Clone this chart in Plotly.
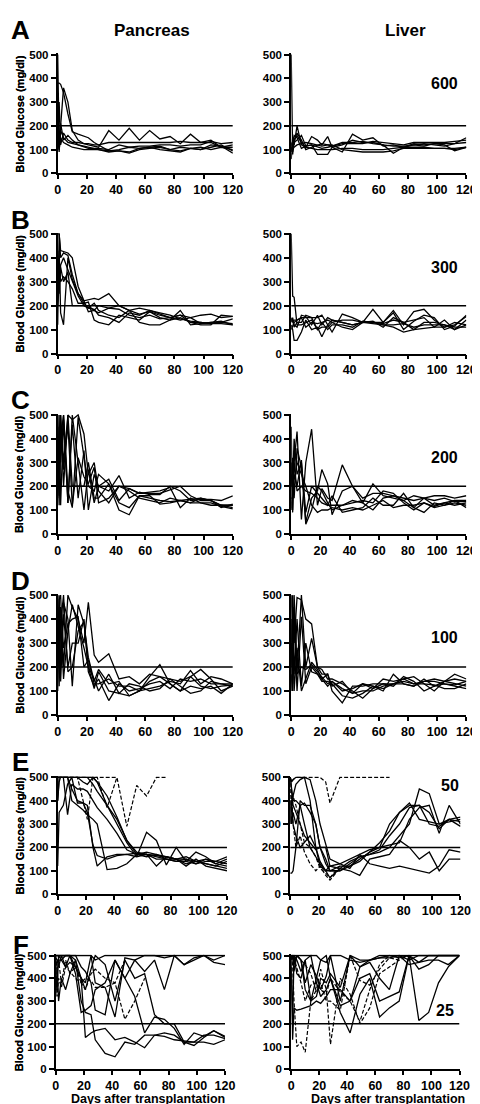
import plotly.graph_objects as go

# ---------------- data ----------------
DAYS = [0, 1, 2, 4, 7, 10, 14, 18, 21, 25, 28, 35, 42, 49, 56, 63, 70, 77, 84, 91, 98, 105, 112, 120]
X_TICKS = [0, 20, 40, 60, 80, 100, 120]
Y_TICKS = [0, 100, 200, 300, 400, 500]
PANEL_LETTERS = ["A", "B", "C", "D", "E", "F"]
DOSES = ["600", "300", "200", "100", "50", "25"]
COLUMN_TITLES = ["Pancreas", "Liver"]
THRESHOLD = 200

A_PANCREAS = [
    [500, 120, 180, 150, 130, 125, 120, 115, 110, 105, 100, 95, 100, 110, 105, 110, 115, 100, 110, 105, 100, 110, 120, 95],
    [380, 380, 375, 340, 250, 175, 165, 155, 150, 130, 120, 95, 95, 90, 105, 110, 100, 95, 90, 105, 110, 100, 110, 100],
    [310, 130, 200, 360, 300, 180, 140, 125, 120, 115, 110, 180, 140, 190, 140, 180, 145, 155, 125, 165, 130, 140, 110, 120],
    [120, 300, 120, 170, 140, 130, 130, 125, 125, 120, 120, 130, 130, 130, 130, 130, 130, 130, 135, 130, 130, 130, 110, 110],
    [200, 100, 150, 130, 120, 110, 105, 100, 100, 100, 100, 90, 95, 85, 100, 105, 110, 100, 95, 105, 100, 120, 115, 85],
    [150, 90, 210, 140, 160, 140, 120, 110, 105, 105, 105, 100, 120, 110, 115, 115, 120, 120, 115, 120, 120, 135, 125, 130],
]
A_LIVER = [
    [500, 80, 140, 160, 130, 110, 105, 100, 100, 100, 100, 105, 105, 100, 100, 100, 105, 110, 110, 110, 105, 105, 100, 110],
    [90, 150, 120, 200, 120, 110, 155, 140, 120, 155, 110, 90, 165, 140, 150, 115, 120, 110, 125, 120, 125, 125, 125, 150],
    [60, 130, 160, 150, 105, 115, 120, 80, 80, 80, 110, 120, 140, 130, 130, 120, 85, 110, 120, 115, 125, 120, 95, 110],
    [100, 110, 140, 170, 140, 100, 110, 120, 125, 120, 115, 130, 130, 135, 125, 120, 115, 115, 120, 125, 120, 115, 125, 130],
    [130, 100, 110, 120, 125, 130, 125, 120, 115, 120, 120, 100, 95, 90, 90, 90, 95, 105, 105, 105, 105, 105, 105, 110],
    [110, 90, 130, 140, 160, 115, 120, 110, 105, 110, 115, 125, 125, 125, 135, 130, 125, 120, 130, 130, 130, 130, 135, 140],
]
B_PANCREAS = [
    [500, 500, 430, 425, 420, 400, 280, 220, 225, 230, 225, 250, 200, 180, 165, 175, 160, 150, 160, 150, 125, 130, 135, 120],
    [120, 500, 400, 420, 410, 330, 250, 210, 215, 140, 130, 120, 160, 150, 140, 175, 150, 140, 150, 130, 130, 125, 130, 125],
    [300, 430, 170, 120, 400, 310, 250, 220, 175, 180, 170, 190, 185, 160, 150, 160, 145, 150, 140, 150, 160, 165, 150, 155],
    [200, 300, 360, 300, 340, 200, 200, 200, 200, 180, 200, 190, 200, 180, 130, 120, 120, 140, 180, 120, 125, 130, 130, 145],
    [350, 250, 370, 400, 350, 300, 240, 200, 190, 210, 180, 160, 150, 180, 190, 180, 165, 150, 160, 130, 120, 120, 160, 155],
    [250, 370, 300, 320, 300, 270, 210, 210, 190, 185, 160, 150, 130, 170, 160, 180, 170, 160, 145, 135, 130, 125, 125, 120],
]
B_LIVER = [
    [500, 240, 235, 120, 120, 130, 140, 100, 130, 140, 130, 140, 140, 130, 135, 110, 150, 130, 100, 130, 130, 120, 110, 110],
    [120, 100, 55, 55, 90, 140, 100, 110, 70, 120, 140, 130, 120, 130, 185, 130, 180, 120, 175, 185, 140, 110, 130, 120],
    [150, 130, 140, 140, 150, 150, 150, 150, 160, 120, 90, 165, 150, 130, 130, 120, 110, 90, 100, 105, 110, 110, 120, 155],
    [130, 150, 120, 110, 160, 155, 120, 160, 120, 150, 140, 130, 120, 130, 130, 125, 140, 130, 140, 150, 110, 140, 100, 140],
    [140, 140, 110, 130, 130, 160, 150, 100, 110, 110, 130, 110, 100, 130, 125, 120, 120, 125, 110, 120, 120, 120, 100, 120],
    [100, 120, 130, 140, 150, 110, 130, 125, 130, 100, 120, 120, 110, 135, 130, 130, 170, 100, 135, 160, 150, 100, 115, 160],
]
C_PANCREAS = [
    [500, 160, 500, 200, 500, 480, 500, 420, 250, 300, 180, 130, 200, 180, 150, 140, 130, 150, 140, 130, 150, 140, 120, 110],
    [150, 500, 120, 480, 130, 460, 150, 350, 100, 250, 200, 230, 140, 190, 170, 170, 170, 185, 200, 160, 140, 140, 120, 120],
    [300, 200, 400, 500, 180, 110, 490, 320, 200, 180, 250, 210, 100, 80, 160, 150, 140, 135, 140, 130, 130, 130, 115, 105],
    [200, 450, 300, 500, 130, 500, 300, 100, 270, 130, 200, 180, 245, 150, 175, 165, 165, 200, 180, 140, 145, 145, 140, 160],
    [400, 300, 500, 300, 500, 200, 200, 200, 300, 150, 150, 210, 130, 110, 160, 160, 125, 130, 140, 145, 150, 140, 110, 125],
    [350, 120, 450, 270, 460, 120, 320, 240, 210, 280, 130, 150, 200, 190, 170, 175, 180, 195, 110, 150, 130, 120, 120, 120],
]
C_LIVER = [
    [450, 90, 300, 430, 60, 300, 440, 120, 190, 150, 140, 290, 200, 130, 210, 160, 150, 140, 110, 90, 130, 120, 130, 120],
    [200, 320, 150, 360, 280, 50, 150, 180, 270, 210, 80, 180, 200, 150, 170, 170, 160, 140, 160, 150, 160, 160, 150, 160],
    [100, 200, 400, 250, 300, 90, 200, 170, 150, 120, 160, 90, 100, 110, 150, 120, 120, 170, 110, 150, 120, 130, 140, 140],
    [150, 150, 250, 200, 310, 40, 100, 200, 180, 130, 100, 120, 130, 140, 130, 180, 170, 130, 100, 130, 110, 120, 140, 110],
    [300, 100, 350, 300, 250, 200, 120, 90, 100, 100, 110, 100, 110, 100, 120, 140, 110, 120, 120, 130, 115, 130, 120, 130],
    [250, 180, 300, 180, 200, 180, 170, 150, 130, 120, 120, 120, 140, 130, 100, 150, 160, 150, 140, 150, 140, 150, 135, 135],
]
D_PANCREAS = [
    [100, 480, 500, 200, 500, 450, 400, 300, 470, 250, 220, 255, 150, 160, 130, 170, 160, 130, 100, 160, 190, 150, 100, 120],
    [500, 260, 380, 500, 180, 200, 350, 390, 200, 110, 180, 100, 90, 80, 100, 110, 120, 140, 130, 185, 130, 160, 150, 130],
    [300, 400, 200, 470, 400, 120, 460, 380, 240, 140, 190, 130, 140, 80, 100, 140, 160, 150, 140, 160, 120, 110, 120, 125],
    [450, 120, 400, 150, 350, 460, 370, 280, 200, 150, 100, 170, 90, 130, 120, 100, 110, 150, 120, 90, 100, 140, 130, 120],
    [250, 500, 140, 420, 200, 300, 300, 400, 180, 120, 150, 60, 130, 100, 110, 130, 140, 110, 150, 140, 150, 130, 130, 130],
    [200, 350, 450, 280, 380, 400, 410, 200, 230, 130, 130, 150, 120, 120, 100, 160, 210, 130, 100, 120, 110, 120, 90, 130],
]
D_LIVER = [
    [100, 500, 300, 490, 480, 400, 380, 200, 190, 150, 150, 130, 100, 70, 110, 130, 120, 160, 140, 100, 120, 130, 120, 110],
    [170, 100, 500, 180, 500, 200, 320, 200, 170, 170, 100, 50, 120, 120, 130, 130, 130, 130, 120, 140, 150, 140, 130, 120],
    [300, 200, 400, 100, 410, 130, 200, 170, 150, 170, 120, 140, 90, 130, 120, 100, 170, 130, 120, 150, 120, 140, 150, 140],
    [500, 350, 100, 280, 100, 150, 220, 190, 150, 120, 140, 100, 110, 130, 110, 150, 140, 150, 160, 130, 100, 140, 170, 150],
    [200, 450, 170, 400, 120, 300, 180, 170, 140, 140, 130, 80, 70, 90, 120, 110, 130, 140, 130, 130, 125, 110, 110, 130],
    [400, 130, 450, 170, 200, 190, 210, 180, 160, 130, 140, 110, 90, 100, 100, 120, 130, 150, 130, 140, 140, 130, 125, 140],
]
E_PANCREAS = [
    [120, 350, 360, 380, 470, 500, 390, 390, 380, 200, 120, 160, 170, 170, 175, 170, 165, 160, 150, 130, 140, 130, 120, 110],
    [400, 500, 500, 500, 500, 450, 400, 390, 350, 210, 165, 150, 165, 170, 160, 170, 160, 150, 150, 160, 140, 130, 120, 140],
    [500, 500, 500, 500, 500, 400, 380, 360, 340, 320, 300, 105, 110, 130, 170, 160, 170, 150, 140, 150, 140, 150, 130, 150],
    [400, 480, 500, 500, 340, 470, 450, 450, 440, 400, 370, 320, 260, 190, 170, 180, 170, 160, 150, 150, 130, 150, 140, 160],
    [500, 500, 500, 500, 500, 500, 500, 480, 470, 500, 480, 380, 320, 230, 170, 170, 120, 160, 150, 120, 150, 120, 110, 100],
    [500, 500, 500, 500, 500, 500, 500, 500, 500, 470, 440, 380, 300, 220, 160, 265, 230, 125, 200, 140, 180, 160, 130, 120],
    [500, 500, 500, 500, 500, 500, 500, 500, 500, 500, 480, 420, 330, 230, 180, 170, 150, 150, 140, 140, 130, 140, 140, 130],
]
E_PANCREAS_DASHED = [
    [500, 500, 500, 500, 500, 500, 500, 500, 500, 500, 500, 500, 500, 290, 465, 420, 500, 500],
    [500, 500, 500, 500, 500, 500, 500, 400, 320, 500, 500, 370, 500],
]
E_LIVER = [
    [90, 90, 100, 200, 400, 380, 380, 300, 200, 130, 100, 100, 120, 150, 180, 200, 300, 350, 390, 320, 310, 300, 320, 330],
    [500, 480, 490, 500, 500, 500, 400, 200, 120, 100, 100, 120, 120, 140, 180, 220, 270, 350, 380, 380, 350, 280, 320, 310],
    [500, 450, 400, 400, 380, 300, 200, 160, 130, 100, 70, 110, 140, 160, 170, 180, 200, 250, 300, 450, 430, 300, 310, 320],
    [500, 420, 380, 350, 300, 250, 220, 190, 200, 200, 120, 110, 100, 80, 150, 160, 170, 230, 200, 150, 180, 100, 150, 150],
    [300, 400, 300, 250, 200, 220, 250, 200, 140, 100, 120, 130, 110, 170, 130, 120, 110, 120, 110, 100, 90, 120, 190, 180],
    [400, 400, 420, 470, 490, 500, 490, 400, 300, 210, 150, 130, 150, 170, 190, 200, 210, 220, 320, 370, 380, 260, 380, 300],
    [400, 300, 350, 300, 380, 390, 350, 300, 200, 150, 100, 100, 130, 160, 170, 190, 250, 300, 370, 380, 300, 290, 320, 290],
]
E_LIVER_DASHED = [
    [500, 480, 490, 500, 500, 500, 500, 500, 500, 480, 390, 500, 500, 500, 500, 500, 500],
    [500, 400, 300, 200, 250, 180, 130, 100, 120, 80, 60, 110],
    [450, 350, 420, 380, 300, 220, 200, 160, 110, 90, 70, 120],
]
F_PANCREAS = [
    [500, 500, 500, 500, 500, 500, 500, 500, 500, 500, 480, 500, 500, 500, 500, 500, 500, 500, 500, 500, 500, 500, 500, 500],
    [490, 480, 450, 500, 450, 500, 420, 250, 260, 280, 350, 380, 480, 400, 480, 500, 500, 490, 500, 460, 480, 500, 470, 460],
    [320, 450, 300, 400, 350, 420, 480, 400, 140, 160, 170, 180, 130, 140, 120, 95, 150, 160, 150, 120, 105, 140, 170, 140],
    [500, 500, 500, 500, 500, 500, 480, 300, 250, 240, 130, 70, 55, 120, 110, 150, 150, 145, 130, 125, 120, 150, 150, 135],
    [450, 480, 480, 480, 500, 500, 450, 400, 380, 500, 380, 360, 230, 490, 480, 430, 480, 350, 500, 460, 490, 500, 480, 500],
    [400, 350, 500, 480, 450, 470, 450, 400, 350, 440, 500, 460, 300, 480, 400, 420, 240, 200, 200, 120, 120, 120, 110, 130],
    [500, 500, 500, 500, 500, 500, 500, 450, 430, 380, 260, 240, 480, 400, 320, 160, 230, 220, 180, 110, 160, 145, 170, 145],
]
F_PANCREAS_DASHED = [
    [500, 420, 480, 380, 480, 420, 450, 380, 400, 390, 360, 360, 380, 220, 300, 400],
    [460, 320, 400, 360, 450, 430, 400, 380, 350, 420, 440, 400, 380, 480],
]
F_LIVER = [
    [500, 130, 270, 260, 265, 270, 280, 300, 290, 320, 350, 350, 300, 450, 470, 400, 350, 500, 500, 470, 500, 500, 500, 500],
    [500, 500, 500, 480, 430, 480, 500, 380, 320, 350, 400, 280, 300, 400, 420, 300, 320, 340, 500, 215, 250, 380, 450, 500],
    [450, 200, 500, 420, 400, 480, 300, 400, 480, 500, 400, 250, 160, 330, 400, 230, 270, 300, 500, 440, 460, 500, 500, 500],
    [480, 500, 430, 500, 480, 380, 460, 410, 350, 410, 500, 300, 500, 450, 480, 490, 500, 500, 460, 470, 480, 480, 460, 500],
    [500, 490, 500, 500, 500, 500, 500, 500, 480, 470, 500, 500, 480, 470, 480, 490, 490, 500, 480, 500, 500, 500, 500, 500],
    [500, 500, 460, 500, 480, 350, 300, 320, 400, 380, 420, 360, 500, 480, 480, 500, 500, 490, 500, 500, 500, 500, 500, 500],
]
F_LIVER_DASHED = [
    [500, 460, 300, 100, 120, 75, 300, 350, 440, 350, 110, 400, 330, 200, 270, 420, 450, 480],
    [500, 500, 480, 500, 480, 460, 420, 340, 380, 300, 300, 260, 500, 390, 370, 440, 490, 480, 500],
    [500, 480, 490, 450, 380, 300, 370, 380, 350, 330, 400, 340, 300, 210, 350, 460, 500],
]

PANELS = [
    (A_PANCREAS, []), (A_LIVER, []),
    (B_PANCREAS, []), (B_LIVER, []),
    (C_PANCREAS, []), (C_LIVER, []),
    (D_PANCREAS, []), (D_LIVER, []),
    (E_PANCREAS, E_PANCREAS_DASHED), (E_LIVER, E_LIVER_DASHED),
    (F_PANCREAS, F_PANCREAS_DASHED), (F_LIVER, F_LIVER_DASHED),
]

# ---------------- layout geometry (pixels) ----------------
W, H = 480, 1104
FONT = "Liberation Sans, Arial, Helvetica, sans-serif"
ROW_PX = [(42, 162), (223, 344), (406, 526), (588, 709), (772, 890), (952, 1067)]
COL_PX = [[(48, 228), (288, 468)]] * 4 + [[(48, 222), (287, 462)], [(46, 220), (288, 461)]]
Y_MAX = 505

fig = go.Figure()
layout = dict(
    width=W, height=H, margin=dict(l=0, r=0, t=0, b=0),
    paper_bgcolor="white", plot_bgcolor="white", showlegend=False,
    font=dict(family=FONT, color="black"),
)
shapes = []
annotations = []

for k, (solid, dashed) in enumerate(PANELS):
    r, c = divmod(k, 2)
    sfx = "" if k == 0 else str(k + 1)
    xa, ya = "x" + sfx, "y" + sfx
    (x0, x1) = COL_PX[r][c]
    (t500, b0) = ROW_PX[r]
    ttop = t500 - (Y_MAX - 500) / 500 * (b0 - t500)
    layout["xaxis" + sfx] = dict(
        domain=[x0 / W, x1 / W], range=[0, 120], anchor=ya,
        tickvals=X_TICKS, ticks="outside", ticklen=4, tickwidth=1.6, tickcolor="black",
        showline=True, linewidth=1.8, linecolor="black", showgrid=False, zeroline=False,
        tickfont=dict(family=FONT, size=12.5, color="black", weight="bold"),
    )
    layout["yaxis" + sfx] = dict(
        domain=[1 - b0 / H, 1 - ttop / H], range=[0, Y_MAX], anchor=xa,
        tickvals=Y_TICKS, ticks="outside", ticklen=5, tickwidth=1.6, tickcolor="black",
        showline=True, linewidth=1.8, linecolor="black", showgrid=False, zeroline=False,
        tickfont=dict(family=FONT, size=11.5, color="black", weight="bold"),
    )
    for vals in solid:
        n = min(len(vals), len(DAYS))
        fig.add_trace(go.Scatter(x=DAYS[:n], y=vals[:n], mode="lines", xaxis=xa, yaxis=ya,
                                 line=dict(color="black", width=1.3), hoverinfo="skip"))
    for vals in dashed:
        n = min(len(vals), len(DAYS))
        fig.add_trace(go.Scatter(x=DAYS[:n], y=vals[:n], mode="lines", xaxis=xa, yaxis=ya,
                                 line=dict(color="black", width=1.2, dash="4px,2px"), hoverinfo="skip"))
    shapes.append(dict(type="line", xref=xa, yref=ya, x0=0, x1=120, y0=THRESHOLD, y1=THRESHOLD,
                       line=dict(color="black", width=1.5), layer="above"))
    # y-axis title
    annotations.append(dict(text="Blood Glucose (mg/dl)", x=9 / W, y=1 - (t500 + b0) / 2 / H,
                            xref="paper", yref="paper", showarrow=False, textangle=-90,
                            xanchor="center", yanchor="middle",
                            font=dict(family=FONT, size=11, color="black", weight="bold")))

LETTER_Y = [17, 209, 391, 574, 757, 941]
DOSE_Y = [71, 257, 449, 631, 780, 1008]
DOSE_X = [446, 446, 446, 446, 451, 446]
for i in range(6):
    annotations.append(dict(text=PANEL_LETTERS[i], x=10 / W, y=1 - LETTER_Y[i] / H, xref="paper", yref="paper",
                            showarrow=False, xanchor="center", yanchor="middle",
                            font=dict(family=FONT, size=26, color="black", weight="bold")))
    annotations.append(dict(text=DOSES[i], x=DOSE_X[i] / W, y=1 - DOSE_Y[i] / H, xref="paper", yref="paper",
                            showarrow=False, xanchor="center", yanchor="middle",
                            font=dict(family=FONT, size=16, color="black", weight="bold")))

for txt, cx in zip(COLUMN_TITLES, [145, 405]):
    annotations.append(dict(text=txt, x=cx / W, y=1 - 18 / H, xref="paper", yref="paper",
                            showarrow=False, xanchor="center", yanchor="middle",
                            font=dict(family=FONT, size=17, color="black", weight="bold")))
for cx in [141, 388]:
    annotations.append(dict(text="Days after transplantation", x=cx / W, y=1 - 1097 / H, xref="paper", yref="paper",
                            showarrow=False, xanchor="center", yanchor="middle",
                            font=dict(family=FONT, size=12.5, color="black", weight="bold")))

layout["shapes"] = shapes
layout["annotations"] = annotations
fig.update_layout(**layout)
fig.write_html("out.html")
